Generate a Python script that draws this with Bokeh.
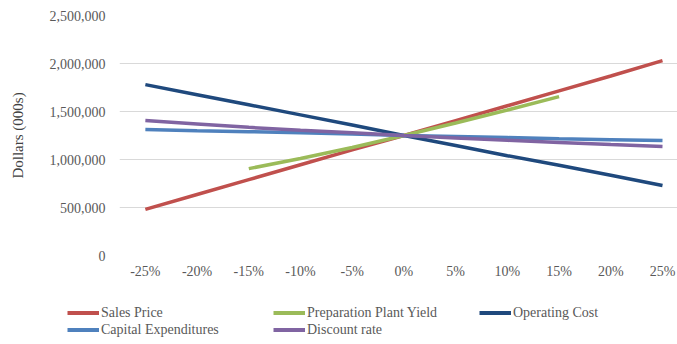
from bokeh.plotting import figure
from bokeh.layouts import column
from bokeh.models import (Range1d, FixedTicker, NumeralTickFormatter, PrintfTickFormatter,
                          Legend, LegendItem)
from bokeh.embed import file_html
from bokeh.resources import INLINE

# Sensitivity of value (Dollars, 000s) to percentage change in each input
changes = [-25, -20, -15, -10, -5, 0, 5, 10, 15, 20, 25]

sales_price = [480000, 635000, 790000, 945000, 1100000, 1250000, 1405000, 1560000, 1715000, 1870000, 2030000]
plant_yield_changes = [-15, -10, -5, 0, 5, 10, 15]
plant_yield = [905000, 1010000, 1125000, 1250000, 1380000, 1515000, 1655000]
operating_cost = [1780000, 1675000, 1570000, 1465000, 1360000, 1250000, 1145000, 1040000, 940000, 835000, 730000]
capital_expenditures = [1312000, 1300000, 1290000, 1278000, 1265000, 1250000, 1240000, 1228000, 1217000, 1207000, 1197000]
discount_rate = [1405000, 1370000, 1335000, 1305000, 1278000, 1250000, 1225000, 1200000, 1178000, 1155000, 1135000]

y_ticks = [0, 500000, 1000000, 1500000, 2000000, 2500000]

FONT = "Liberation Serif"
GRAY = "#595959"

p = figure(width=677, height=290, output_backend="svg", toolbar_location=None,
           x_range=Range1d(-27.5, 26.45), y_range=Range1d(0, 2500000),
           min_border_left=119, min_border_right=0, min_border_top=15, min_border_bottom=35)
p.frame_align = False
p.outline_line_color = None
p.background_fill_color = "white"
p.border_fill_color = "white"

series = [
    ("Sales Price", changes, sales_price, "#c0504d"),
    ("Preparation Plant Yield", plant_yield_changes, plant_yield, "#9bbb59"),
    ("Operating Cost", changes, operating_cost, "#1f497d"),
    ("Capital Expenditures", changes, capital_expenditures, "#4f81bd"),
    ("Discount rate", changes, discount_rate, "#8064a2"),
]

for name, xs, ys, color in series:
    p.line(xs, ys, line_color=color, line_width=3.5)

# Axes
p.xaxis.ticker = FixedTicker(ticks=changes)
p.xaxis.formatter = PrintfTickFormatter(format="%d%%")
p.yaxis.ticker = FixedTicker(ticks=y_ticks)
p.yaxis.formatter = NumeralTickFormatter(format="0,0")
for ax in (p.xaxis, p.yaxis):
    ax.axis_line_color = None
    ax.major_tick_line_color = None
    ax.minor_tick_line_color = None
    ax.major_label_text_font = FONT
    ax.major_label_text_font_size = "14px"
    ax.major_label_text_color = GRAY
p.xaxis.major_label_standoff = 2
p.yaxis.major_label_standoff = 8
p.yaxis.axis_label = "Dollars (000s)"
p.yaxis.axis_label_text_font = FONT
p.yaxis.axis_label_text_font_style = "normal"
p.yaxis.axis_label_text_font_size = "15px"
p.yaxis.axis_label_text_color = "#404040"
p.yaxis.axis_label_standoff = 21

p.xgrid.grid_line_color = None
p.ygrid.grid_line_color = "#d9d9d9"
p.ygrid.grid_line_width = 1.2

# Legend strip below the chart, three entries per row
leg = figure(width=677, height=54, output_backend="svg", toolbar_location=None,
             x_range=Range1d(0, 1), y_range=Range1d(0, 1),
             x_axis_type=None, y_axis_type=None,
             min_border_left=0, min_border_right=0, min_border_top=0, min_border_bottom=0)
leg.frame_align = False
leg.outline_line_color = None
leg.grid.visible = False

items = []
for name, xs, ys, color in series:
    # key strokes only; the data sits outside this strip's range
    r = leg.line(x=[-5, -4], y=[-5, -5], line_color=color, line_width=4)
    items.append(LegendItem(label=name, renderers=[r]))

legend = Legend(items=items, ncols=3, orientation="horizontal", location=(67, 6),
                glyph_width=32, glyph_height=17, label_height=17, label_width=172,
                label_standoff=2, spacing=0, padding=0, margin=0,
                label_text_font=FONT, label_text_font_size="14px", label_text_color=GRAY,
                border_line_color=None, background_fill_alpha=0)
leg.add_layout(legend, "center")

layout = column(p, leg, spacing=0)
open("out.html", "w").write(file_html(layout, INLINE))
